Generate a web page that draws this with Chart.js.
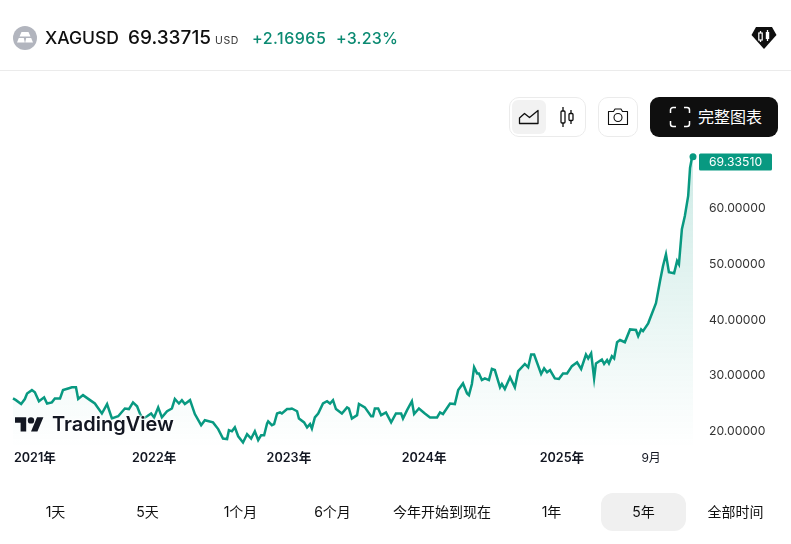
<!DOCTYPE html>
<html lang="zh">
<head>
<meta charset="utf-8">
<title>XAGUSD</title>
<script src="https://cdn.jsdelivr.net/npm/chart.js@4"></script>
<style>
html, body { margin: 0; padding: 0; background: #fff; }
body { width: 791px; height: 544px; overflow: hidden; position: relative; font-family: Inter, "Noto Sans CJK SC", sans-serif; color: #0f0f0f; }
#myChart { position: absolute; left: 0; top: 0; }
.abs { position: absolute; white-space: nowrap; }
.sep { left: 0; top: 70px; width: 791px; height: 1px; background: #ebebeb; }
.green { color: #0b8a72; font-weight: 500; font-size: 16px; top: 28px; }
.box { border: 1px solid #ebebeb; border-radius: 10px; box-sizing: border-box; }
.tab { top: 493px; height: 38px; line-height: 38px; text-align: center; font-size: 14px; border-radius: 12px; color: #0f0f0f; }
#logo { left: 14px; top: 411px; width: 32px; height: 26px; }
#logoText { left: 52px; top: 410px; font-size: 20px; font-weight: 600; line-height: 28px; color: #131722;
    text-shadow: 0 0 2px #fff, 0 0 2px #fff, 0 0 3px #fff, 0 0 3px #fff; }
</style>
</head>
<body>
<canvas id="myChart" width="791" height="544"></canvas>

<!-- header -->
<svg class="abs" style="left:13px;top:26px" width="24" height="24" viewBox="0 0 24 24">
  <circle cx="12" cy="12" r="12" fill="#b2b5be"/>
  <path d="M8.500 6h7l2 4.500h-11zM4 16.500l1.800-4.500h5l1 4.500zM13.200 12h5l1.800 4.500h-7.800z" fill="#fff"/>
</svg>
<div class="abs" style="left:45px;top:27px;font-size:17.5px;font-weight:500;">XAGUSD</div>
<div class="abs" style="left:128px;top:26px;font-size:19px;font-weight:500;">69.33715</div>
<div class="abs" style="left:215px;top:34px;font-size:10.5px;letter-spacing:0.6px;color:#333;">USD</div>
<div class="abs green" style="left:252px;letter-spacing:0.5px">+2.16965</div>
<div class="abs green" style="left:336px;letter-spacing:0.2px">+3.23%</div>
<svg class="abs" style="left:751px;top:26px" width="26" height="24" viewBox="0 0 26 24">
  <path d="M5 1h16l4.500 8L13 23 .5 9z" fill="#0f0f0f"/>
  <path d="M9.500 5v2M9.500 14v2M16.500 4v2M16.500 13v2" stroke="#fff" stroke-width="1.300"/>
  <rect x="7.800" y="7" width="3.400" height="7" fill="none" stroke="#fff" stroke-width="1.200"/>
  <rect x="14.800" y="6" width="3.400" height="7" fill="#fff"/>
</svg>
<div class="abs sep"></div>

<!-- toolbar -->
<div class="abs box" style="left:509px;top:97px;width:77px;height:40px;"></div>
<div class="abs" style="left:512px;top:100px;width:34px;height:34px;background:#f2f2f2;border-radius:6px;"></div>
<svg class="abs" style="left:518px;top:107px" width="22" height="20" viewBox="0 0 22 20" fill="none" stroke="#0f0f0f" stroke-width="1.300">
  <path d="M1.500 16.500V11l5-4.500 5 4 8.500-7v13z" stroke-linejoin="round"/>
</svg>
<svg class="abs" style="left:558px;top:106px" width="18" height="22" viewBox="0 0 18 22" fill="none" stroke="#0f0f0f" stroke-width="1.300">
  <rect x="3" y="5" width="4" height="12" rx="1"/><path d="M5 1v4M5 17v4"/>
  <rect x="11" y="7.500" width="4" height="7" rx="1"/><path d="M13 4v3.500M13 14.500V18"/>
</svg>
<div class="abs box" style="left:598px;top:97px;width:40px;height:40px;"></div>
<svg class="abs" style="left:607px;top:107px" width="22" height="20" viewBox="0 0 22 20" fill="none" stroke="#0f0f0f" stroke-width="1.100">
  <path d="M1.500 4.500h5l1.500-2.500h6l1.500 2.500h5v13h-19z" stroke-linejoin="round"/>
  <circle cx="11" cy="10.500" r="4"/>
</svg>
<div class="abs" style="left:650px;top:97px;width:128px;height:40px;background:#0f0f0f;border-radius:9px;"></div>
<svg class="abs" style="left:669px;top:106px" width="22" height="22" viewBox="0 0 22 22" fill="none" stroke="#fff" stroke-width="1.500">
  <path d="M7 1.500H4A2.500 2.500 0 0 0 1.500 4v3M15 1.500h3A2.500 2.500 0 0 1 20.500 4v3M7 20.500H4A2.500 2.500 0 0 1 1.500 18v-3M15 20.500h3a2.500 2.500 0 0 0 2.500-2.500v-3"/>
</svg>
<div class="abs" style="left:698px;top:106px;font-size:16px;line-height:22px;color:#fff;">完整图表</div>

<!-- watermark, sits over the line -->
<svg id="logo" class="abs" viewBox="0 0 32 26">
  <g transform="translate(1 3) scale(0.8)">
    <path d="M14 22H7V11H0V4h14v18zM28 22h-8l7.500-18h8L28 22z" fill="#131722"/>
    <circle cx="20" cy="8" r="4" fill="#131722"/>
  </g>
</svg>
<div id="logoText" class="abs">TradingView</div>

<!-- range tabs -->
<div class="abs tab" style="left:13px;width:85px;">1天</div>
<div class="abs tab" style="left:105px;width:85px;">5天</div>
<div class="abs tab" style="left:198px;width:85px;">1个月</div>
<div class="abs tab" style="left:290px;width:85px;">6个月</div>
<div class="abs tab" style="left:382px;width:120px;">今年开始到现在</div>
<div class="abs tab" style="left:509px;width:85px;">1年</div>
<div class="abs tab" style="left:601px;width:85px;background:#f0f0f0;">5年</div>
<div class="abs tab" style="left:693px;width:85px;">全部时间</div>

<script>
// days since the start of the 5 year window
var days = [0,8,22,32,38,51,59,70,84,92,105,113,127,135,149,159,170,176,189,208,221,240,254,267,284,302,313,324,335,343,351,362,373,381,392,402,416,429,437,448,456,464,478,491,508,518,540,554,567,578,583,591,599,608,621,632,643,653,662,670,678,686,689,699,705,713,721,726,740,748,753,767,772,786,794,802,807,815,824,837,848,856,864,872,888,902,907,915,929,934,950,967,972,977,986,994,1007,1021,1034,1048,1053,1064,1077,1083,1096,1112,1126,1145,1153,1161,1180,1193,1202,1215,1226,1231,1239,1245,1253,1258,1266,1274,1285,1293,1301,1315,1320,1328,1342,1355,1364,1382,1391,1399,1407,1426,1434,1442,1450,1463,1474,1485,1496,1509,1523,1534,1547,1553,1561,1569,1574,1590,1596,1604,1609,1617,1623,1631,1639,1652,1666,1682,1688,1696,1701,1715,1736,1747,1755,1763,1771,1785,1793,1798,1806,1814,1823,1828,1833,1836];

// silver price
var prices = [25.9,25.6,24.9,25.8,26.8,27.4,27.0,25.4,26.1,25.0,25.2,25.9,25.9,27.4,27.7,27.9,27.9,25.8,26.5,25.6,25.0,23.2,24.9,22.3,22.7,24.1,24.0,25.2,24.5,23.1,22.3,22.7,23.2,22.5,24.3,22.5,23.6,24.1,25.8,25.0,25.6,24.9,25.6,23.1,21.1,22.0,21.6,20.4,18.7,18.6,20.2,20.0,20.7,19.1,18.0,19.5,18.7,20.0,18.4,19.3,19.3,21.4,21.8,21.1,21.3,23.2,23.4,23.2,24.0,24.0,24.1,23.6,22.3,21.6,20.7,21.3,20.5,22.5,23.2,25.0,25.4,25.0,25.6,24.0,23.2,24.3,24.1,22.3,22.9,24.9,24.3,22.7,22.7,24.1,24.1,22.9,23.4,21.6,23.2,23.2,22.3,23.8,25.4,23.1,24.1,23.2,22.5,22.5,23.4,23.1,25.0,24.9,27.4,28.6,26.8,26.5,28.5,31.5,30.4,30.4,29.2,29.5,29.2,31.2,31.0,27.9,28.5,27.6,29.7,27.9,30.8,32.1,31.5,33.8,33.8,30.3,31.3,30.6,31.0,29.5,29.4,30.4,30.4,31.7,32.4,31.2,33.8,33.1,34.0,29.5,32.2,32.9,32.1,32.8,32.2,33.5,33.1,36.0,36.4,36.0,38.3,38.2,37.1,38.3,38.0,39.4,43.0,47.0,49.7,51.8,48.6,48.4,50.6,50.0,56.3,58.7,62.3,67.3,69.1,69.3351];

var xTickDays = [59,381,745,1110,1482,1723];
var xTickLabels = ['2021年','2022年','2023年','2024年','2025年','9月'];
var yTicks = [20,30,40,50,60];
var lastPriceLabel = '69.33510';

var lineColor = '#089981';

var points = days.map(function(d, i) { return {x: d, y: prices[i]}; });

// price tag to the right of the last point
var priceTag = {
    id: 'priceTag',
    afterDraw: function(chart) {
        var c = chart.ctx;
        var y = chart.scales.y.getPixelForValue(prices[prices.length - 1]);
        c.save();
        c.fillStyle = lineColor;
        c.beginPath();
        c.roundRect(699, y - 3.2, 73, 17, 1.5);
        c.fill();
        c.fillStyle = '#fff';
        c.font = '12.2px Inter';
        c.textBaseline = 'middle';
        c.fillText(lastPriceLabel, 709, y + 5.5);
        c.restore();
    }
};

new Chart(document.getElementById('myChart'), {
    type: 'line',
    data: {
        datasets: [{
            data: points,
            borderColor: lineColor,
            borderWidth: 2.5,
            tension: 0,
            clip: false,
            fill: 'start',
            backgroundColor: function(ctx) {
                var area = ctx.chart.chartArea;
                if (!area) return 'transparent';
                var g = ctx.chart.ctx.createLinearGradient(0, area.top, 0, area.bottom);
                g.addColorStop(0, 'rgba(8,153,129,0.2)');
                g.addColorStop(1, 'rgba(8,153,129,0)');
                return g;
            },
            pointRadius: function(ctx) { return ctx.dataIndex === prices.length - 1 ? 3.5 : 0; },
            pointBackgroundColor: lineColor,
            pointBorderWidth: 0
        }]
    },
    options: {
        responsive: false,
        animation: false,
        layout: { padding: { left: 13, top: 153, right: 0, bottom: 0 } },
        plugins: { legend: { display: false }, tooltip: { enabled: false } },
        scales: {
            x: {
                type: 'linear',
                min: 0,
                max: 1836,
                grid: { display: false, drawTicks: false },
                border: { display: false },
                afterBuildTicks: function(axis) {
                    axis.ticks = xTickDays.map(function(d) { return {value: d}; });
                },
                afterFit: function(axis) { axis.height = 96; },
                ticks: {
                    autoSkip: false,
                    maxRotation: 0,
                    padding: 3,
                    color: '#131722',
                    font: function(ctx) {
                        return {
                            family: 'Inter, "Noto Sans CJK SC"',
                            size: ctx.index < 5 ? 12.6 : 12,
                            weight: ctx.index < 5 ? '600' : '400'
                        };
                    },
                    callback: function(v) { return xTickLabels[xTickDays.indexOf(v)]; }
                }
            },
            y: {
                position: 'right',
                min: 17,
                max: 70,
                grid: { display: false, drawTicks: false },
                border: { display: false },
                afterBuildTicks: function(axis) {
                    axis.ticks = yTicks.map(function(v) { return {value: v}; });
                },
                afterFit: function(axis) { axis.width = 98; },
                ticks: {
                    padding: 16,
                    color: '#333',
                    font: { family: 'Inter', size: 12.2 },
                    callback: function(v) { return v.toFixed(5); }
                }
            }
        }
    },
    plugins: [priceTag]
});
</script>
</body>
</html>
